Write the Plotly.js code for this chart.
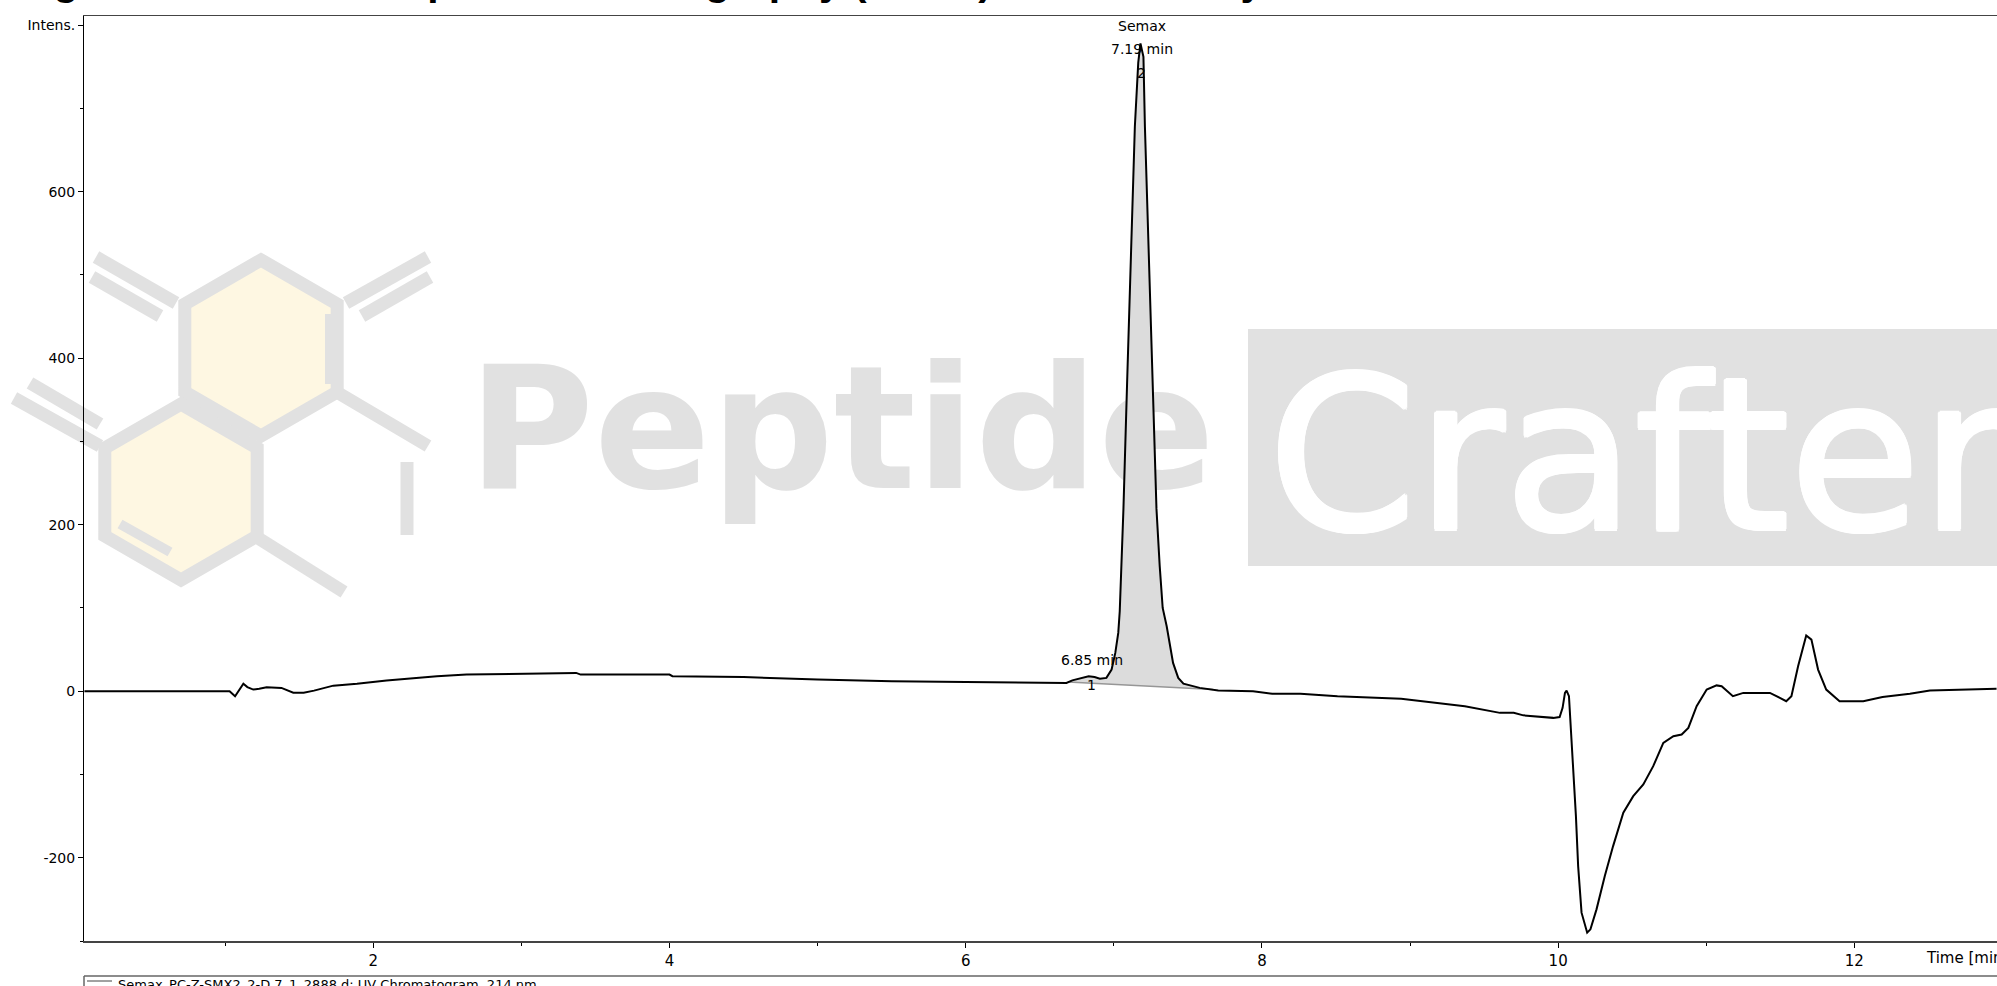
<!DOCTYPE html>
<html><head><meta charset="utf-8">
<script src="https://cdn.plot.ly/plotly-3.0.1.min.js"></script>
<style>html,body{margin:0;padding:0;overflow:hidden;background:#fff}</style>
</head><body><div id="chart" style="width:1997px;height:986px"></div>
<script>
// ---------- data ----------
const retentionTime = [0.05,0.5,0.9,1.03,1.067,1.095,1.123,1.15,1.19,1.23,1.28,1.38,1.42,1.46,1.53,1.60,1.73,1.89,2.09,2.25,2.43,2.63,3.02,3.10,3.37,3.40,4.00,4.02,4.5,5.0,5.5,6.0,6.36,6.68,6.72,6.78,6.83,6.87,6.906,6.95,6.985,7.01,7.03,7.04,7.065,7.09,7.116,7.142,7.165,7.18,7.19,7.20,7.21,7.237,7.262,7.288,7.31,7.33,7.357,7.38,7.40,7.435,7.47,7.58,7.705,7.94,8.07,8.26,8.51,8.94,9.37,9.607,9.70,9.765,9.967,10.01,10.03,10.046,10.057,10.073,10.085,10.10,10.12,10.135,10.158,10.196,10.218,10.259,10.315,10.371,10.44,10.507,10.575,10.642,10.71,10.778,10.834,10.879,10.935,11.003,11.07,11.104,11.18,11.25,11.43,11.497,11.54,11.575,11.62,11.675,11.71,11.755,11.81,11.90,12.06,12.19,12.375,12.51,12.825,12.96];
const intensity = [0,0,0,0,-6,2,9,5,2,3,4.7,4,1,-1.7,-1.7,0.7,6.7,9,13,15.5,18,20,21,22,22,20,20,18,17,14,12,11,10,10,13,16,18,17,15,16,26,46,70,96,219,372,525,678,755,778,770,762,678,525,372,219,150,100,78,54,34,16,9,4,1,0,-3,-3,-6,-9,-18,-26,-26,-29,-32,-31,-20,-2,0.7,-6,-42,-90,-150,-210,-266,-290,-286,-262,-222,-186,-146,-126,-112,-90,-62,-54,-52,-44,-18,2,7,6,-6,-2,-2,-8,-12,-6,30,67,62,26,2,-12,-12,-7,-3,1,3,3];
const integrationBaseTime = [6.69, 7.67];
const integrationBaseValue = [11, 2];
const peakNumbers = ['1', '2'];
const peakTimes = [6.85, 7.19];
const peakTimeLabels = ['6.85 min', '7.19 min'];
const peakCompounds = ['', 'Semax'];
const xTickValues = [2, 4, 6, 8, 10, 12];
const xTickLabels = ['2', '4', '6', '8', '10', '12'];
const xMinorTicks = [1, 3, 5, 7, 9, 11];
const yTickValues = [-200, 0, 200, 400, 600, 800];
const yTickLabels = ['-200', '0', '200', '400', '600', 'Intens.'];
const yMinorTicks = [-300, -100, 100, 300, 500, 700];
const xAxisLabel = 'Time [min]';
const legendLabel = 'Semax_PC-Z-SMX2_2-D.7_1_2888.d: UV Chromatogram, 214 nm';
const chartTitle = 'Figure 2: High Performance Liquid Chromatography (HPLC) Semax Purity Test';
const watermarkWords = ['Peptide', 'Crafters'];

// ---------- geometry helpers ----------
const W = 1997, H = 986;
const M = {l: 84, r: 0, t: 16, b: 45};
const PW = W - M.l - M.r, PH = H - M.t - M.b;
const XR = [0.047, 12.963], YR = [-300, 811];
const px2x = p => (p - M.l) / PW;             // pixel -> paper
const py2y = p => (H - M.b - p) / PH;
const px2t = p => XR[0] + (p - M.l) / PW * (XR[1] - XR[0]); // pixel -> data
const py2v = p => YR[0] + (H - M.b - p) / PH * (YR[1] - YR[0]);
function interp(xs, ys, x) {
  for (let i = 0; i < xs.length - 1; i++) {
    if (x >= xs[i] && x <= xs[i + 1]) return ys[i] + (ys[i + 1] - ys[i]) * (x - xs[i]) / (xs[i + 1] - xs[i]);
  }
  return ys[ys.length - 1];
}

// integration fill polygon (curve above the drawn baseline)
const fillX = [], fillY = [];
fillX.push(integrationBaseTime[0]); fillY.push(interp(retentionTime, intensity, integrationBaseTime[0]));
retentionTime.forEach((t, i) => {
  if (t > integrationBaseTime[0] && t < integrationBaseTime[1]) { fillX.push(t); fillY.push(intensity[i]); }
});
fillX.push(integrationBaseTime[1]); fillY.push(interp(retentionTime, intensity, integrationBaseTime[1]));
fillX.push(integrationBaseTime[1]); fillY.push(integrationBaseValue[1]);
fillX.push(integrationBaseTime[0]); fillY.push(integrationBaseValue[0]);

const grayWM = 'rgb(225,225,225)';
const thick = '2px 0 0 #fff, -2px 0 0 #fff, 0 2px 0 #fff, 0 -2px 0 #fff, 1.5px 1.5px 0 #fff, -1.5px -1.5px 0 #fff, 1.5px -1.5px 0 #fff, -1.5px 1.5px 0 #fff';

// ---------- traces ----------
const traces = [
  { x: [px2t(468)], y: [py2v(445)], mode: 'text', text: [watermarkWords[0]], textposition: 'middle right',
    textfont: {family: 'DejaVu Sans', size: 172, weight: 'bold', color: grayWM}, hoverinfo: 'skip', showlegend: false },
  { x: [px2t(1268)], y: [py2v(476)], mode: 'text', text: [watermarkWords[1]], textposition: 'middle right',
    textfont: {family: 'DejaVu Sans', size: 213, color: '#ffffff', shadow: thick}, hoverinfo: 'skip', showlegend: false },
  { x: fillX, y: fillY, mode: 'lines', fill: 'toself', fillcolor: 'rgb(220,220,220)', line: {width: 0},
    hoverinfo: 'skip', showlegend: false },
  { x: integrationBaseTime, y: integrationBaseValue, mode: 'lines', line: {color: 'rgb(150,150,150)', width: 1.5},
    hoverinfo: 'skip', showlegend: false },
  { x: retentionTime, y: intensity, mode: 'lines', name: legendLabel, line: {color: '#000', width: 2},
    showlegend: false }
];

// ---------- logo shapes (watermark) ----------
const shapes = [];
const hexFill = 'rgb(254,247,226)';
function hexPath(cx, cy, r) {
  const a = [90, 30, -30, -90, -150, 150];
  return a.map((d, i) => (i ? 'L' : 'M') + px2x(cx + r * Math.cos(d * Math.PI / 180)).toFixed(5) + ',' +
    py2y(cy - r * Math.sin(d * Math.PI / 180)).toFixed(5)).join(' ') + ' Z';
}
function bar(x0, y0, x1, y1, w) {
  shapes.push({type: 'line', xref: 'paper', yref: 'paper', layer: 'below',
    x0: px2x(x0), y0: py2y(y0), x1: px2x(x1), y1: py2y(y1), line: {color: grayWM, width: w || 13}});
}
shapes.push({type: 'rect', xref: 'paper', yref: 'paper', layer: 'below',
  x0: px2x(1248), x1: 1.02, y0: py2y(566), y1: py2y(329), fillcolor: grayWM, line: {width: 0}});
shapes.push({type: 'path', xref: 'paper', yref: 'paper', layer: 'below', path: hexPath(261, 348, 88),
  fillcolor: hexFill, line: {color: grayWM, width: 13}});
shapes.push({type: 'path', xref: 'paper', yref: 'paper', layer: 'below', path: hexPath(181, 492, 88),
  fillcolor: hexFill, line: {color: grayWM, width: 13}});
// double bars upper-left
bar(96, 257, 176, 303); bar(92, 277, 160, 316);
// double bars upper-right
bar(346, 303, 428, 257); bar(362, 316, 430, 277);
// lower-right of upper hex
bar(340, 394, 428, 446); bar(407, 462, 407, 535);
// left double bars of lower hex
bar(14, 398, 100, 446); bar(30, 383, 100, 424);
// lower-right bar of lower hex
bar(258, 538, 344, 592);
// inner lines
bar(330, 314, 330, 384, 10); bar(120, 524, 170, 552, 10);

// legend frame
shapes.push({type: 'line', xref: 'paper', yref: 'paper', x0: 0, x1: 1.01, y0: py2y(976), y1: py2y(976), line: {color: '#666', width: 1.5}});
shapes.push({type: 'line', xref: 'paper', yref: 'paper', x0: 0, x1: 0, y0: py2y(976), y1: py2y(990), line: {color: '#666', width: 1.5}});
shapes.push({type: 'line', xref: 'paper', yref: 'paper', x0: px2x(87), x1: px2x(112), y0: py2y(981), y1: py2y(981), line: {color: '#444', width: 1}});

// ---------- annotations ----------
const lblFont = {family: 'DejaVu Sans', size: 14, color: '#000'};
const annotations = [];
peakTimes.forEach((t, i) => {
  const v = interp(retentionTime, intensity, t);
  annotations.push({x: t, y: v, xref: 'x', yref: 'y', text: peakTimeLabels[i], showarrow: false, font: lblFont,
    yanchor: 'middle', yshift: i === 1 ? 1 : 17});
  annotations.push({x: t, y: v, xref: 'x', yref: 'y', text: peakNumbers[i], showarrow: false, font: lblFont,
    yanchor: 'middle', yshift: i === 1 ? -23 : -8});
  if (peakCompounds[i]) annotations.push({x: t, y: v, xref: 'x', yref: 'y', text: peakCompounds[i], showarrow: false,
    font: lblFont, yanchor: 'middle', yshift: 24});
});
annotations.push({xref: 'paper', yref: 'paper', x: px2x(1924), y: py2y(958), xanchor: 'left', yanchor: 'middle',
  text: xAxisLabel, showarrow: false, font: {family: 'DejaVu Sans', size: 15, color: '#000'}});
annotations.push({xref: 'paper', yref: 'paper', x: px2x(116), y: py2y(975), xanchor: 'left', yanchor: 'top',
  text: legendLabel, showarrow: false, font: {family: 'DejaVu Sans', size: 13, color: '#000'}});
annotations.push({xref: 'paper', yref: 'paper', x: px2x(-174), y: py2y(6), xanchor: 'left', yanchor: 'bottom',
  text: '<b>' + chartTitle + '</b>', showarrow: false, font: {family: 'Liberation Sans', size: 41, color: '#000'}});

const layout = {
  width: W, height: H, margin: M, paper_bgcolor: '#fff', plot_bgcolor: 'rgba(0,0,0,0)', showlegend: false,
  xaxis: {range: XR, tickmode: 'array', tickvals: xTickValues, ticktext: xTickLabels, ticks: 'outside', ticklen: 5,
    tickcolor: '#000', showline: true, linecolor: '#444', linewidth: 1.5, mirror: true, showgrid: false, zeroline: false,
    tickfont: {family: 'DejaVu Sans', size: 15, color: '#000'},
    minor: {tickvals: xMinorTicks, ticks: 'outside', ticklen: 3, tickcolor: '#000', showgrid: false}},
  yaxis: {range: YR, tickmode: 'array', tickvals: yTickValues, ticktext: yTickLabels, ticks: 'outside', ticklen: 5,
    tickcolor: '#000', showline: true, linecolor: '#000', linewidth: 1, mirror: false, showgrid: false, zeroline: false,
    tickfont: {family: 'DejaVu Sans', size: 14, color: '#000'},
    minor: {tickvals: yMinorTicks, ticks: 'outside', ticklen: 3, tickcolor: '#000', showgrid: false}},
  shapes: shapes, annotations: annotations
};
Plotly.newPlot('chart', traces, layout, {staticPlot: true, displayModeBar: false});
</script></body></html>
